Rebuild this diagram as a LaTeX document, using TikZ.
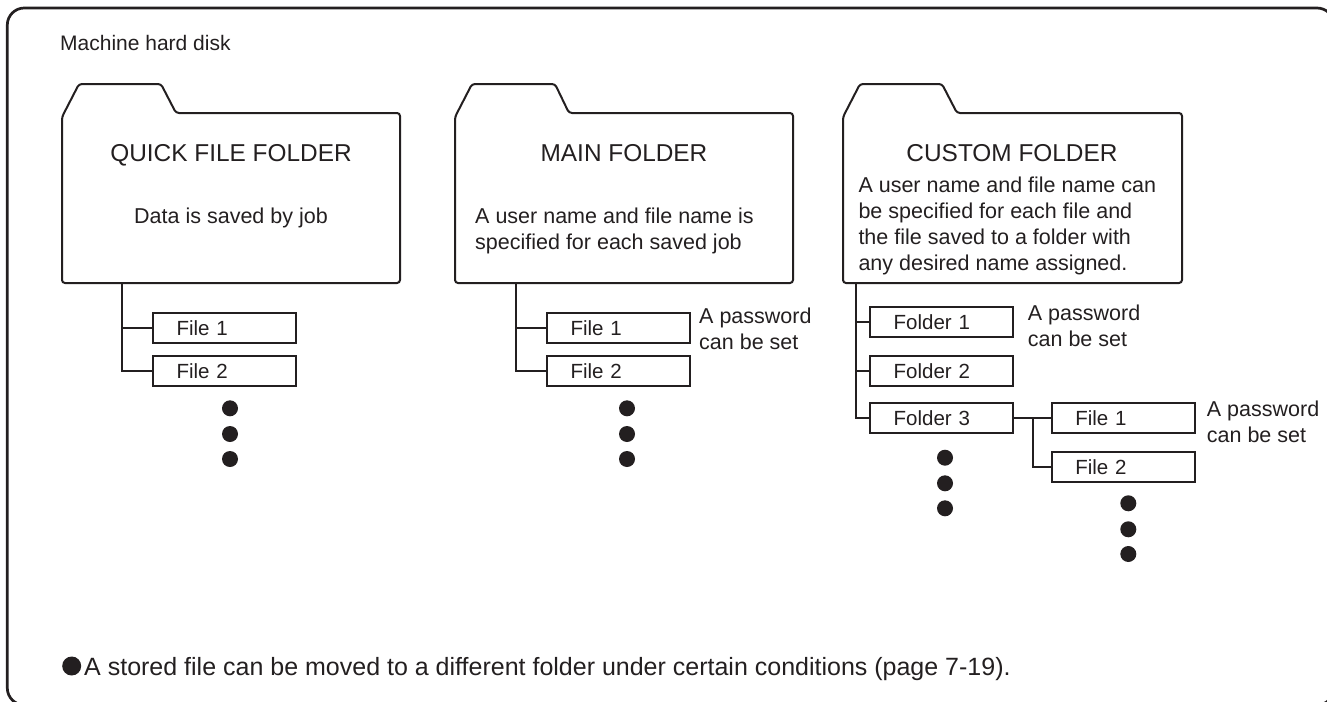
\documentclass[tikz,border=0pt]{standalone}
\usepackage{fontspec}
\setmainfont{Liberation Sans}
\definecolor{ink}{HTML}{231F20}

\begin{document}
\begin{tikzpicture}[
		x=1pt, y=-1pt,
		every node/.style = {text=ink, font=\fontsize{21.5}{25.8}\selectfont},
		fold/.style = {draw=ink, line width=2pt, rounded corners=3pt},
		title/.style = {anchor=base, inner sep=0pt, font=\fontsize{24.4}{28}\selectfont},
		txt/.style = {anchor=base west, align=left, inner sep=0pt},
		box/.style = {rectangle, draw=ink, line width=2pt, text width=96pt, align=left, inner xsep=23.5pt, minimum height=30pt, font=\fontsize{20.5}{24}\selectfont},
		dot/.style = {circle, fill=ink, inner sep=0pt, minimum size=16pt},
		l/.style = {draw=ink, line width=2pt},
		]
		\useasboundingbox (0,0) rectangle (1327,701);
		\clip (0,0) rectangle (1327,701);

		%Frame and folders
		\draw[ink, line width=2.7pt, rounded corners=17pt] (7.3,8) rectangle (1334,705);
		\draw[fold] (62,117) -- (79,84) -- (161,84) -- (176,113) -- (400,113) -- (400,283) -- (62,283) -- cycle;
		\draw[fold] (455,117) -- (472,84) -- (555,84) -- (569,113) -- (793,113) -- (793,283) -- (455,283) -- cycle;
		\draw[fold] (843,117) -- (860,84) -- (942,84) -- (957,113) -- (1182,113) -- (1182,283) -- (843,283) -- cycle;
		\coordinate (qstem) at (122,283);
		\coordinate (mstem) at (516,283);
		\coordinate (cstem) at (855.5,283);
		\coordinate (cjoin) at (1033,418.3);

		%Texts (multi-line ones are placed by their last line)
		\node[txt, font=\fontsize{21}{25}\selectfont] (hdd) at (60,51) {Machine hard disk};
		\node[title] (qtitle) at (231,161.7) {QUICK FILE FOLDER};
		\node[title] (mtitle) at (624,161.7) {MAIN FOLDER};
		\node[title] (ctitle) at (1012,161.7) {CUSTOM FOLDER};
		\node[title, font=\fontsize{21.5}{25.8}\selectfont] (qdesc) at (231,223) {Data is saved by job};
		\node[txt] (mdesc) at (475,249.3) {A user name and file name is\\specified for each saved job};
		\node[txt] (cdesc) at (858.3,270) {A user name and file name can\\be specified for each file and\\the file saved to a folder with\\any desired name assigned.};

		%Boxes
		\node[box] (qf1) at (224.6,328.3) {File 1};
		\node[box] (qf2) at (224.6,371.3) {File 2};
		\node[box] (mf1) at (618.5,328.3) {File 1};
		\node[box] (mf2) at (618.5,371.3) {File 2};
		\node[box] (cf1) at (941.7,321.7) {Folder 1};
		\node[box] (cf2) at (941.7,371) {Folder 2};
		\node[box] (cf3) at (941.7,418.3) {Folder 3};
		\node[box] (cfi1) at (1123.3,418.3) {File 1};
		\node[box] (cfi2) at (1123.3,466.7) {File 2};
		\node[txt] (mpw) at (699,349) {A password\\can be set};
		\node[txt] (cpw1) at (1027.7,346.7) {A password\\can be set};
		\node[txt] (cpw2) at (1206.7,442.7) {A password\\can be set};

		%Dots
		\foreach \y [count=\i] in {408.3, 434, 459} {
			\node[dot] (qd\i) at (230,\y) {};
			\node[dot] (md\i) at (627,\y) {};
		}
		\foreach \y [count=\i] in {457.7, 483.3, 508.3} \node[dot] (cd\i) at (945,\y) {};
		\foreach \y [count=\i] in {503.3, 529.3, 554} \node[dot] (cfd\i) at (1128.3,\y) {};

		%Lines
		\draw[l] (qstem) |- (qf1.west);
		\draw[l] (qstem) |- (qf2.west);
		\draw[l] (mstem) |- (mf1.west);
		\draw[l] (mstem) |- (mf2.west);
		\draw[l] (cstem) |- (cf1.west);
		\draw[l] (cstem) |- (cf2.west);
		\draw[l] (cstem) |- (cf3.west);
		\draw[l] (cf3.east) -- (cfi1.west);
		\draw[l] (cjoin) |- (cfi2.west);

		%Note
		\node[dot, minimum size=19pt] (bul) at (71.7,666) {};
		\node[txt, font=\fontsize{25}{30}\selectfont] (note) at (84,675) {A stored file can be moved to a different folder under certain conditions (page 7-19).};
	\end{tikzpicture}
\end{document}
